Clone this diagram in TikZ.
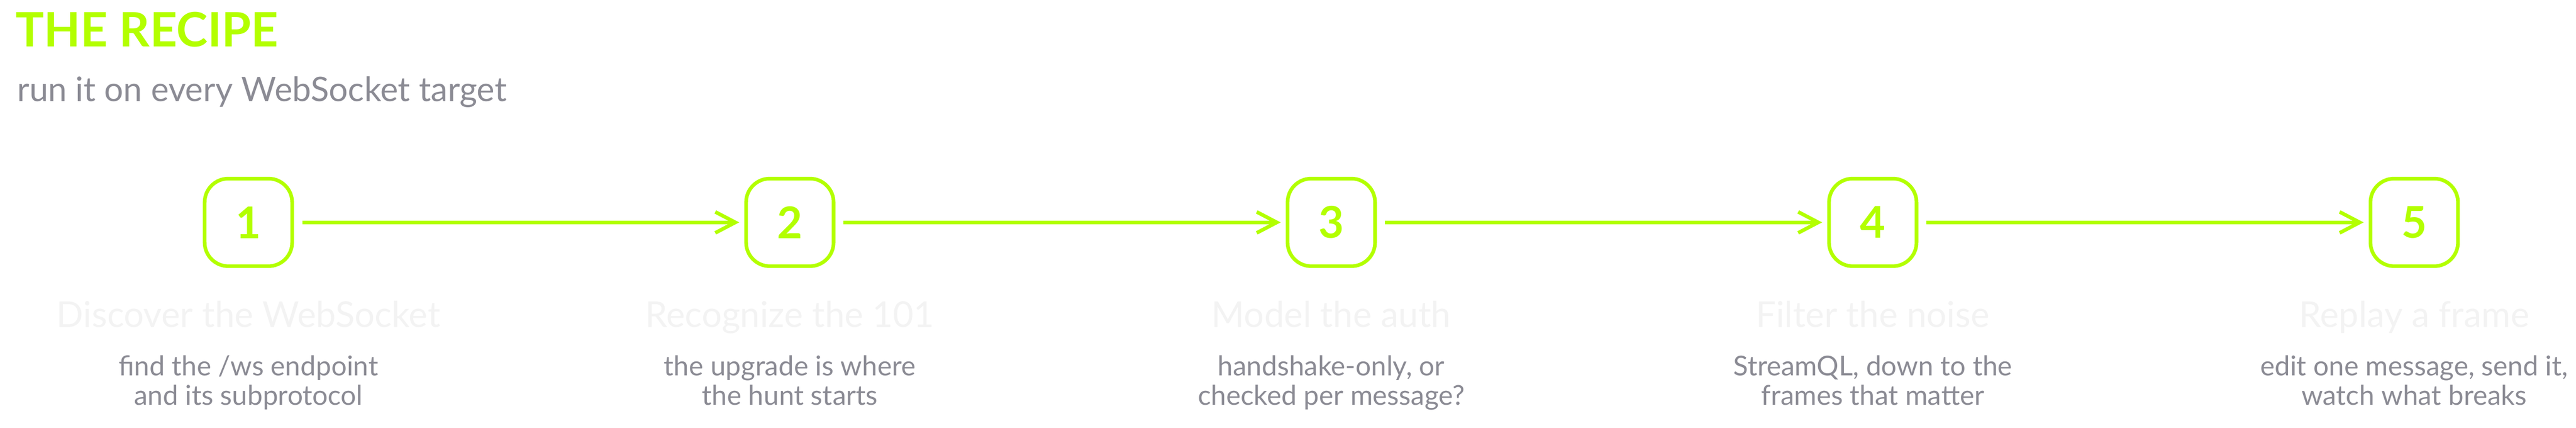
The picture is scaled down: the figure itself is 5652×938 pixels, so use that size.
\documentclass[tikz,border=0pt]{standalone}
\usepackage{fontspec}
\setmainfont{Lato}
\usetikzlibrary{arrows.meta,positioning,calc}
\definecolor{stepLime}{HTML}{B3FF00}
\definecolor{stepInk}{HTML}{8B8B94}
\definecolor{stepGhost}{HTML}{F3F3F3}
\tikzset{
  >={Straight Barb[length=44pt,width=46pt]},
  titleText/.style={anchor=base west,text=stepLime,font=\fontsize{104pt}{104pt}\selectfont\bfseries},
  subText/.style={anchor=base west,text=stepInk,font=\fontsize{74pt}{74pt}\selectfont},
  stepBox/.style={draw=stepLime,line width=8pt,rounded corners=52pt,minimum size=192pt,inner sep=0pt,text=stepLime,font=\fontsize{96pt}{96pt}\selectfont\bfseries},
  stepHead/.style={anchor=base,text=stepGhost,font=\fontsize{78pt}{78pt}\selectfont},
  stepDesc/.style={anchor=base,text=stepInk,align=center,font=\fontsize{60pt}{64pt}\selectfont},
  flow/.style={->,draw=stepLime,line width=8pt,shorten <=18pt,shorten >=11pt},
}
\begin{document}
\begin{tikzpicture}[x=1pt,y=1pt]
\useasboundingbox (0,0) rectangle (5652,-938);

% ===== Title =====
\node[titleText] (title) at (31,-102) {THE RECIPE};
\node[subText] (subtitle) at (34,-222) {run it on every WebSocket target};

% ===== Steps =====
\foreach [count=\i] \h/\d in {
  {Discover the WebSocket}/{find the /ws endpoint\\and its subprotocol},
  {Recognize the 101}/{the upgrade is where\\the hunt starts},
  {Model the auth}/{handshake-only, or\\checked per message?},
  {Filter the noise}/{StreamQL, down to the\\frames that matter},
  {Replay a frame}/{edit one message, send it,\\watch what breaks}} {
  \node[stepBox] (s\i) at ({545+1188*(\i-1)},-487.5) {\i};
  \node[stepHead] (h\i) at ($(s\i)+(0,-229.5)$) {\h};
  \node[stepDesc] (d\i) at ($(s\i)+(0,-400.5)$) {\d};
}

% ===== Connections =====
\foreach [count=\b from 2] \a in {1,...,4} {\draw[flow] (s\a.east) -- (s\b.west);}

\end{tikzpicture}
\end{document}
